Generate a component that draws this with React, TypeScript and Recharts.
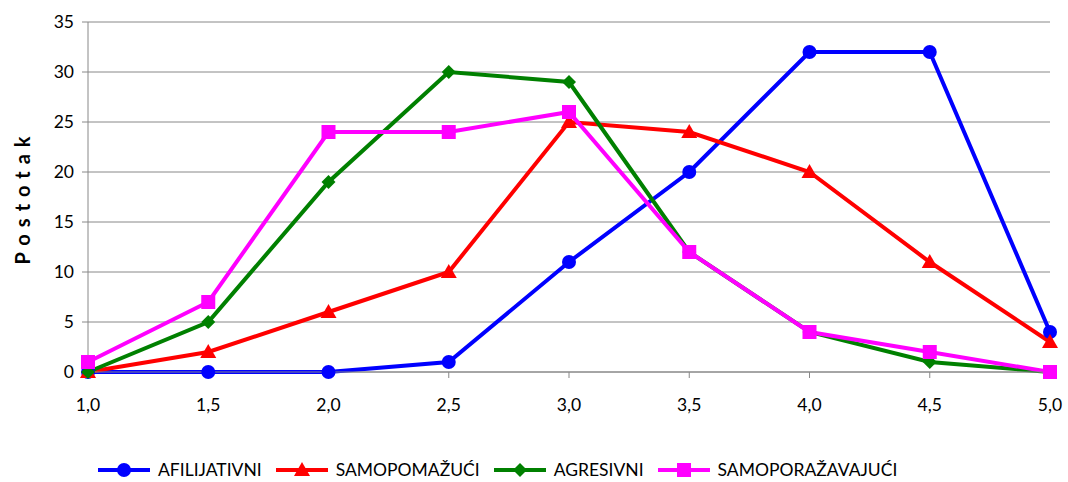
import React from 'react'
import { LineChart, Line, XAxis, YAxis, CartesianGrid } from 'recharts'

const categories = ['1,0', '1,5', '2,0', '2,5', '3,0', '3,5', '4,0', '4,5', '5,0']
const afilijativni = [0, 0, 0, 1, 11, 20, 32, 32, 4]
const samopomazuci = [0, 2, 6, 10, 25, 24, 20, 11, 3]
const agresivni = [0, 5, 19, 30, 29, 12, 4, 1, 0]
const samoporazavajuci = [1, 7, 24, 24, 26, 12, 4, 2, 0]
const yTicks = [0, 5, 10, 15, 20, 25, 30, 35]

const series = [
  { key: 'afi', name: 'AFILIJATIVNI', color: '#0000FF', shape: 'circle', values: afilijativni },
  { key: 'sam', name: 'SAMOPOMAŽUĆI', color: '#FF0000', shape: 'triangle', values: samopomazuci },
  { key: 'agr', name: 'AGRESIVNI', color: '#008000', shape: 'diamond', values: agresivni },
  { key: 'spo', name: 'SAMOPORAŽAVAJUĆI', color: '#FF00FF', shape: 'square', values: samoporazavajuci },
]

const data = categories.map((c, i) => {
  const row: any = { cat: c }
  series.forEach((s) => { row[s.key] = s.values[i] })
  return row
})

const FONT = 'Lato, "Open Sans", sans-serif'

function Marker({ cx, cy, shape, color }: any) {
  if (cx == null || cy == null) return null
  if (shape === 'circle') return <circle cx={cx} cy={cy} r={7} fill={color} />
  if (shape === 'triangle')
    return <polygon points={`${cx},${cy - 8} ${cx + 8},${cy + 6} ${cx - 8},${cy + 6}`} fill={color} />
  if (shape === 'diamond')
    return <polygon points={`${cx},${cy - 7} ${cx + 7},${cy} ${cx},${cy + 7} ${cx - 7},${cy}`} fill={color} />
  return <rect x={cx - 7} y={cy - 7} width={14} height={14} fill={color} />
}

function YLabel({ viewBox }: any) {
  const cy = viewBox ? viewBox.y + viewBox.height / 2 : 197
  return (
    <text
      x={22}
      y={cy}
      transform={`rotate(-90, 22, ${cy})`}
      textAnchor="middle"
      dominantBaseline="central"
      fontFamily={FONT}
      fontSize={20}
      fontWeight="bold"
      letterSpacing={7}
      fill="#000"
    >
      Postotak
    </text>
  )
}

function Legend() {
  return (
    <div
      style={{
        position: 'absolute', left: 98, top: 459, display: 'flex', alignItems: 'center',
        fontFamily: FONT, fontSize: 17.5, color: '#000', whiteSpace: 'nowrap',
      }}
    >
      {series.map((s) => (
        <div key={s.key} style={{ display: 'flex', alignItems: 'center', marginRight: 14 }}>
          <svg width={52} height={20}>
            <line x1={0} y1={10} x2={52} y2={10} stroke={s.color} strokeWidth={4} />
            <Marker cx={26} cy={10} shape={s.shape} color={s.color} />
          </svg>
          <span style={{ marginLeft: 8 }}>{s.name}</span>
        </div>
      ))}
    </div>
  )
}

export default function App() {
  return (
    <div style={{ position: 'absolute', left: 0, top: 0, width: 1068, height: 482, background: '#fff' }}>
      <LineChart width={1068} height={482} data={data} margin={{ top: 22, right: 18, bottom: 80, left: 0 }}>
        <CartesianGrid vertical={false} stroke="#888" strokeWidth={1} />
        <XAxis
          dataKey="cat"
          stroke="#888"
          tickLine={{ stroke: '#888' }}
          tickSize={6}
          height={30}
          tick={{ fill: '#000', fontSize: 17.5, fontFamily: FONT, dy: 19 }}
          interval={0}
        />
        <YAxis
          domain={[0, 35]}
          ticks={yTicks}
          width={88}
          stroke="#888"
          tickSize={6}
          tick={{ fill: '#000', fontSize: 17.5, fontFamily: FONT, dx: -6 }}
          label={<YLabel />}
        />
        {series.map((s) => (
          <Line
            key={s.key}
            dataKey={s.key}
            name={s.name}
            stroke={s.color}
            strokeWidth={4}
            type="linear"
            isAnimationActive={false}
            dot={(p: any) => <Marker key={`${s.key}-${p.index}`} cx={p.cx} cy={p.cy} shape={s.shape} color={s.color} />}
            activeDot={false}
          />
        ))}
      </LineChart>
      <Legend />
    </div>
  )
}
